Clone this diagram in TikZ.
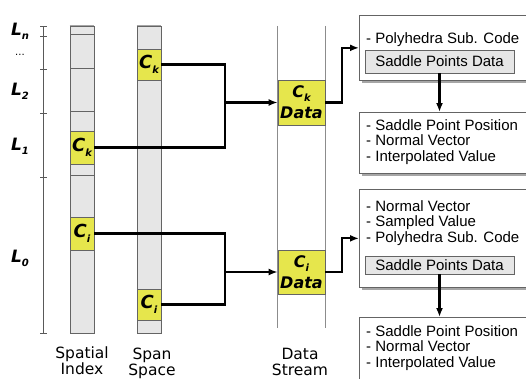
\documentclass[tikz,border=0pt]{standalone}
\usepackage{fontspec}
\setmainfont{DejaVu Sans}
\newfontfamily\boxfont{Liberation Sans}
\usetikzlibrary{arrows.meta,shadows}
\definecolor{cyel}{RGB}{230,230,76}
\definecolor{cgray}{RGB}{230,230,230}
\definecolor{cedge}{RGB}{100,100,100}
\newcommand\lsub[1]{\raisebox{-0.45ex}{\fontsize{10}{10}\selectfont #1}}
\begin{document}
\begin{tikzpicture}[x=1pt,y=-1pt,
  colbox/.style={draw=cedge, fill=cgray, line width=0.7pt, inner sep=0pt, minimum width=24pt},
  ybox/.style={draw=cedge, fill=cyel, line width=0.7pt, inner sep=0pt, minimum width=24pt, font=\fontsize{18}{18}\selectfont\bfseries\itshape},
  dbox/.style={draw=cedge, fill=cyel, line width=0.7pt, inner sep=0pt, minimum width=47pt, minimum height=45pt, align=center, font=\fontsize{16}{21}\selectfont\bfseries\itshape},
  conn/.style={line width=2.2pt, black},
  arr/.style={conn, -{Latex[length=9pt,width=7pt]}},
  info/.style={draw=cedge, fill=white, line width=0.7pt, inner sep=0pt, minimum width=185pt, drop shadow={shadow xshift=3pt, shadow yshift=-3pt, fill=black!35, opacity=1}},
  saddle/.style={draw=cedge, fill=cgray, line width=0.7pt, inner sep=0pt, minimum width=149pt, font=\boxfont\fontsize{15}{15}\selectfont},
  itxt/.style={anchor=west, align=left, inner sep=0pt, font=\boxfont\fontsize{15}{15.5}\selectfont},
  lvl/.style={font=\fontsize{17}{17}\selectfont\bfseries\itshape, inner sep=0pt},
  captxt/.style={align=center, anchor=north, font=\fontsize{15.5}{16}\selectfont, inner sep=0pt},
  tickln/.style={draw=black!65, line width=0.7pt},
  sline/.style={draw=black!45, line width=0.8pt}
]
\useasboundingbox (0,0) rectangle (526,378);
\clip (0,0) rectangle (526,378);

% axis
\draw[tickln] (43,26) -- (43,333);
\foreach \y in {26,36,69,113,177,333} \draw[tickln] (40,\y) -- (47,\y);
\node[lvl] (ln) at (20,31) {L\lsub{n}};
\node[inner sep=0pt, font=\fontsize{10}{10}\selectfont] (dots) at (20,55) {...};
\node[lvl] (l2) at (20,91) {L\lsub{2}};
\node[lvl] (l1) at (20,146) {L\lsub{1}};
\node[lvl] (l0) at (20,258) {L\lsub{0}};

% columns
\node[colbox, minimum height=307pt] (spatial) at (82,179.5) {};
\node[colbox, minimum height=307pt] (span) at (149,179.5) {};
\foreach \y in {34,68,111,175} \draw[draw=cedge, line width=0.6pt] (70,\y) -- (94,\y);
\draw[black!35, line width=1.5pt] (spatial.north west) -- (spatial.north east);
\draw[black!35, line width=1.5pt] (span.north west) -- (span.north east);
\node[minimum width=47pt, minimum height=302pt, inner sep=0pt] (stream) at (301.5,177) {};
\draw[sline] (stream.north west) -- (stream.south west);
\draw[sline] (stream.north east) -- (stream.south east);

% yellow cells
\node[ybox, minimum height=33pt] (sk) at (82,147.5) {C\lsub{k}};
\node[ybox, minimum height=33pt] (si) at (82,233.5) {C\lsub{i}};
\node[ybox, minimum height=31pt] (pk) at (149,64.5) {C\lsub{k}};
\node[ybox, minimum height=31pt] (pi) at (149,304.5) {C\lsub{i}};
\node[dbox] (dk) at (301.5,102.5) {C\lsub{k}\\Data};
\node[dbox, minimum height=44pt] (di) at (301.5,272) {C\lsub{i}\\Data};

% connectors to data stream
\coordinate (jk) at (225,102.5);
\coordinate (ji) at (225,272);
\draw[conn] (sk.east) -| (jk) |- (pk.east);
\draw[arr] (jk) -- (dk.west);
\draw[conn] (si.east) -| (ji) |- (pi.east);
\draw[arr] (ji) -- (di.west);

% info boxes
\node[info, minimum height=65pt, anchor=north west] (b1) at (359,15) {};
\node[info, minimum height=61pt, anchor=north west] (b2) at (359,112) {};
\node[info, minimum height=98pt, anchor=north west] (b3) at (359,189) {};
\node[info, minimum height=80pt, anchor=north west] (b4) at (359,317) {};
\node[saddle, minimum height=23pt] (s1) at (439.5,61.5) {Saddle Points Data};
\node[saddle, minimum height=18pt] (s3) at (439.5,265) {Saddle Points Data};
\node[itxt] (t1) at (366,40) {- Polyhedra Sub. Code};
\node[itxt] (t2) at (366,142) {- Saddle Point Position\\- Normal Vector\\- Interpolated Value};
\node[itxt] (t3) at (366,223) {- Normal Vector\\- Sampled Value\\- Polyhedra Sub. Code};
\node[itxt] (t4) at (366,348) {- Saddle Point Position\\- Normal Vector\\- Interpolated Value};

\coordinate (ek) at (342,102.5);
\coordinate (ei) at (342,272);
\draw[arr] (dk.east) -- (ek) |- (b1.west);
\draw[arr] (di.east) -- (ei) |- (b3.west);
\draw[arr] (s1.south) -- (s1.south |- b2.north);
\draw[arr] (s3.south) -- (s3.south |- b4.north);

% captions
\node[captxt] (cs) at (82,347) {Spatial\\Index};
\node[captxt] (cp) at (152,348) {Span\\Space};
\node[captxt] (cd) at (300,348) {Data\\Stream};
\end{tikzpicture}
\end{document}
